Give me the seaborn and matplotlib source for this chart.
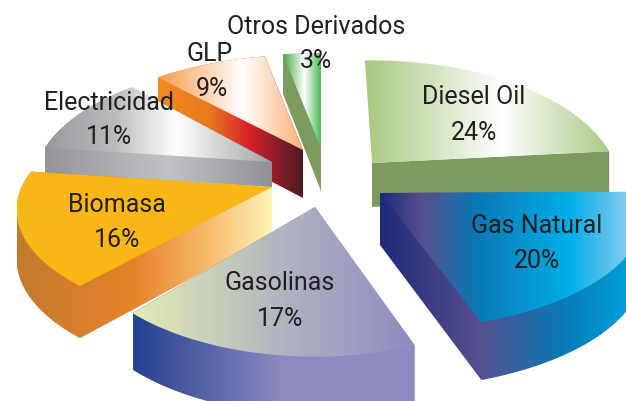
import numpy as np
import matplotlib
matplotlib.use('Agg')
import matplotlib.pyplot as plt
from matplotlib.colors import LinearSegmentedColormap
from matplotlib.patches import Polygon
import seaborn as sns

# datos
categorias = ['Diesel Oil', 'Gas Natural', 'Gasolinas', 'Biomasa', 'Electricidad', 'GLP', 'Otros Derivados']
valores = [24, 20, 17, 16, 11, 9, 3]

# vista de la torta (pixeles)
RX, RY, PERSP = 243, 114, 0.2
vertice = [(372, 163), (380, 193), (315, 207), (272, 187), (272, 162), (303, 150), (321, 148)]
escala_x = [1.0, 1.06, 0.97, 1.03, 0.965, 1.0, 1.0]
escala_y = [1.08, 0.97, 1.05, 0.97, 1.03, 1.0, 1.0]
giro = [2, -3, -1.5, -1.0, 0, 0, 0]
alto = [44, 52, 52, 48, 46, 48, 43]
orden = [6, 5, 0, 4, 3, 1, 2]

# degradados (posicion, color)
cara = [
    [(0, '#a8c880'), (0.56, '#ffffff'), (1, '#abc985')],
    [(0, '#1f2a78'), (0.16, '#57508e'), (0.36, '#0a78b5'), (0.72, '#00aee8'), (1, '#a5d4f0')],
    [(0, '#e4ecb4'), (0.55, '#aeb2c0'), (1, '#8e8abf')],
    [(0, '#f9b617'), (1, '#f9b617')],
    [(0, '#97999c'), (0.3, '#b8babc'), (0.58, '#ffffff'), (1, '#a0a2a4')],
    [(0, '#f79a4e'), (0.58, '#ffffff'), (1, '#fbb070')],
    [(0, '#3fa84a'), (0.55, '#ffffff'), (1, '#3cb54a')],
]
lado = [
    [(0, '#7d9b5e'), (1, '#7d9b5e')],
    [(0, '#1f2a78'), (0.38, '#57508e'), (0.68, '#0a78b5'), (1, '#00a8e0')],
    [(0, '#24408f'), (0.53, '#8e8ac2'), (1, '#8e8ac2')],
    [(0, '#c27a2d'), (0.46, '#e8822a'), (0.72, '#f5b565'), (1, '#fff3b5')],
    [(0, '#939598'), (0.55, '#c0c2c5'), (1, '#8f9194')],
    [(0, '#f28a1e'), (0.35, '#e8791e'), (0.63, '#d8202a'), (0.9, '#6b1d28'), (1, '#4e1a22')],
    [(0, '#7d9b5e'), (1, '#7d9b5e')],
]

# textos
pos_nombre = [(474, 97), (537, 226), (280, 283), (117, 205), (109, 103), (210, 54), (316, 27)]
pos_valor = [(474, 133), (537, 261), (280, 319), (117, 240), (109, 137), (212, 89), (316, 61)]


def proyectar(theta, i):
    t = np.radians(theta + giro[i])
    d = 1 + PERSP * np.sin(t)
    x = vertice[i][0] + RX * escala_x[i] * np.cos(t) / d
    y = vertice[i][1] - RY * escala_y[i] * np.sin(t) / d
    return x, y, alto[i] / np.sqrt(d)


def envolvente(puntos):
    # casco convexo (la cuña extruida es convexa)
    pts = sorted(set(map(tuple, puntos)))

    def media(seq):
        h = []
        for p in seq:
            while len(h) > 1 and np.cross(np.subtract(h[-1], h[-2]), np.subtract(p, h[-2])) <= 0:
                h.pop()
            h.append(p)
        return h[:-1]
    return np.array(media(pts) + media(pts[::-1]))


def pintar(ax, pts, stops, z):
    cmap = LinearSegmentedColormap.from_list('g', stops)
    x0, y0 = pts.min(axis=0)
    x1, y1 = pts.max(axis=0)
    grad = np.linspace(0, 1, 256)[None, :]
    im = ax.imshow(grad, extent=(x0, x1, y1, y0), cmap=cmap, aspect='auto',
                   interpolation='bilinear', zorder=z)
    im.set_clip_path(Polygon(pts, closed=True, transform=ax.transData))


sns.set_theme(style='white')
plt.rcParams['font.family'] = ['Roboto', 'DejaVu Sans']

fig, ax = plt.subplots(figsize=(6.26, 4.01), dpi=100)
fig.subplots_adjust(left=0, right=1, bottom=0, top=1)

# la torta da los angulos de cada porcion
cunas, _ = ax.pie(valores, startangle=90, counterclock=False)
angulos = [(c.theta1, c.theta2) for c in cunas]
for c in cunas:
    c.remove()

z = 2
for i in orden:
    t1, t2 = angulos[i]
    x, y, h = proyectar(np.linspace(t1, t2, 120), i)
    sup = np.vstack([[vertice[i]], np.column_stack([x, y])])
    inf = np.vstack([[(vertice[i][0], vertice[i][1] + alto[i])], np.column_stack([x, y + h])])
    if i == 0:
        # Diesel: solo se ve el corte de adelante
        pared = np.array([sup[0], sup[1], inf[1], inf[0]])
    else:
        pared = envolvente(np.vstack([sup, inf]))
    pintar(ax, pared, lado[i], z)
    pintar(ax, sup, cara[i], z + 1)
    z += 2

for i in range(len(categorias)):
    ax.text(*pos_nombre[i], categorias[i], ha='center', va='center', fontsize=18,
            color='#231f20', zorder=50)
    ax.text(*pos_valor[i], '{}%'.format(valores[i]), ha='center', va='center', fontsize=18,
            color='#231f20', zorder=50)

ax.set_aspect('auto')
ax.set_xlim(0, 626)
ax.set_ylim(401, 0)
ax.axis('off')
fig.savefig('out.png', dpi=100)
